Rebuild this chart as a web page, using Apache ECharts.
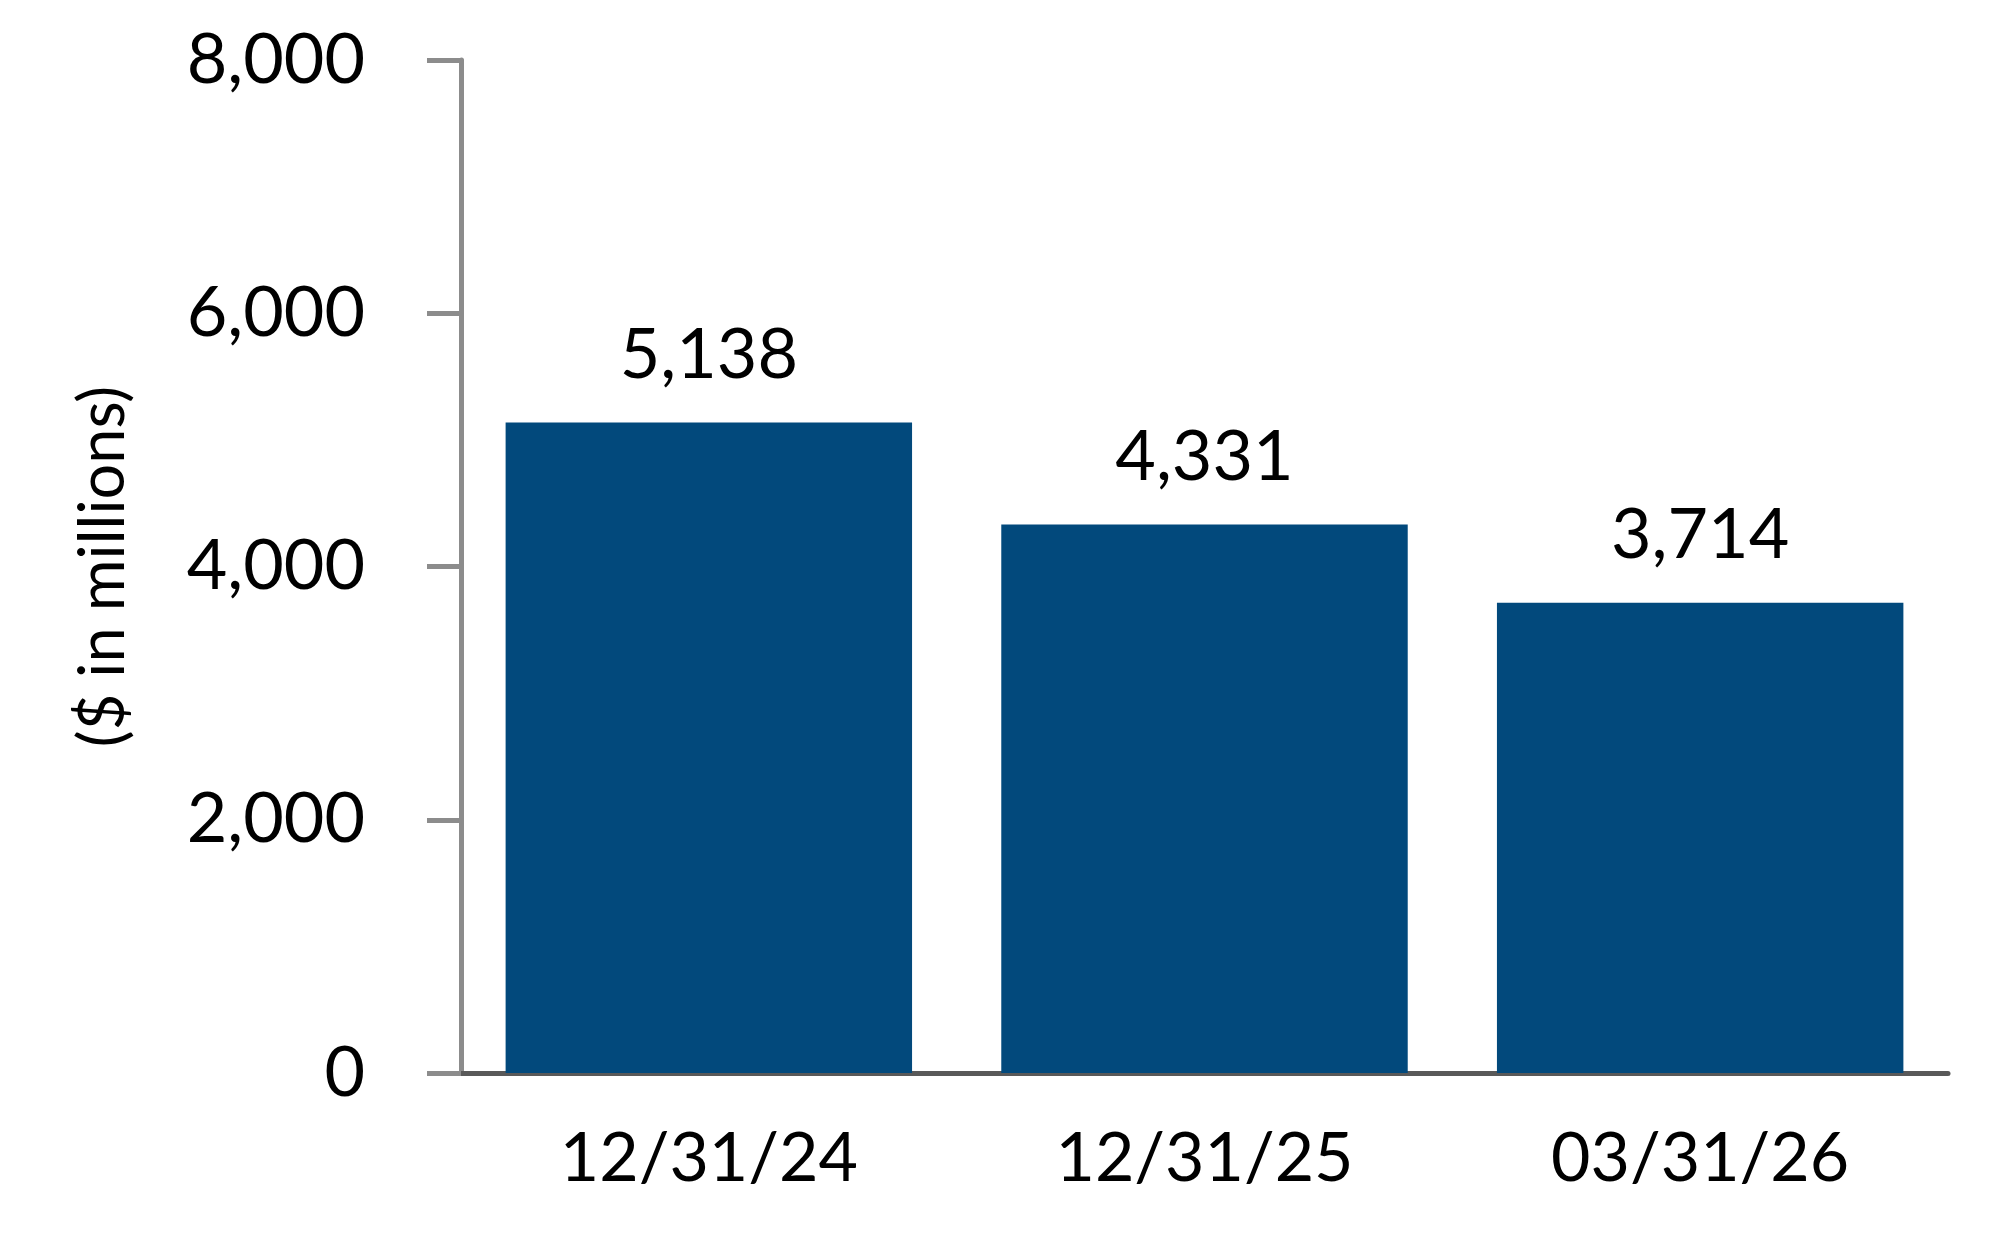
<!DOCTYPE html>
<html>
<head>
<meta charset="utf-8">
<title>Bar chart</title>
<script src="https://cdn.jsdelivr.net/npm/echarts@6/dist/echarts.min.js"></script>
<style>
    html, body { margin: 0; padding: 0; background: #fff; }
    #main { width: 2004px; height: 1260px; }
</style>
</head>
<body>
<div id="main"></div>
<script>
// data
var categories = ['12/31/24', '12/31/25', '03/31/26'];
var values = [5138, 4331, 3714];
var yTicks = [0, 2000, 4000, 6000, 8000];
var yTitle = '($ in millions)';

var fontName = 'Lato';

function fmt(v) {
    return Number(v).toLocaleString('en-US');
}

function getOption() {
    var option = {
        animation: false,
        textStyle: { fontFamily: fontName },
        grid: {
            left: 461,
            right: 56,
            top: 60,
            bottom: 187,
            outerBoundsMode: 'none',
            containLabel: false
        },
        xAxis: {
            type: 'category',
            data: categories,
            axisLine: { lineStyle: { color: '#595959', width: 5 } },
            axisTick: {
                alignWithLabel: true,
                length: 32,
                lineStyle: { color: '#8c8c8c', width: 2 }
            },
            axisLabel: {
                color: '#000',
                fontSize: 68,
                fontFamily: fontName,
                margin: 52
            }
        },
        yAxis: {
            type: 'value',
            min: yTicks[0],
            max: yTicks[yTicks.length - 1],
            interval: yTicks[1] - yTicks[0],
            name: yTitle,
            nameLocation: 'middle',
            nameGap: 326,
            nameRotate: 90,
            nameTextStyle: { color: '#000', fontSize: 63, fontFamily: fontName },
            axisLine: { show: true, lineStyle: { color: '#8c8c8c', width: 5 } },
            axisTick: { show: true, length: 34, lineStyle: { color: '#8c8c8c', width: 5 } },
            splitLine: { show: false },
            axisLabel: {
                color: '#000',
                fontSize: 70,
                fontFamily: fontName,
                margin: 96,
                formatter: fmt
            }
        },
        series: [
            {
                type: 'bar',
                data: values,
                barCategoryGap: '18%',
                itemStyle: { color: '#02497c' },
                label: {
                    show: true,
                    position: 'top',
                    distance: 32,
                    color: '#000',
                    fontSize: 70,
                    fontFamily: fontName,
                    formatter: function (p) { return fmt(p.value); }
                }
            }
        ]
    };
    return option;
}

var myChart = echarts.init(document.getElementById('main'), null, { renderer: 'canvas' });
myChart.setOption(getOption());
</script>
</body>
</html>
